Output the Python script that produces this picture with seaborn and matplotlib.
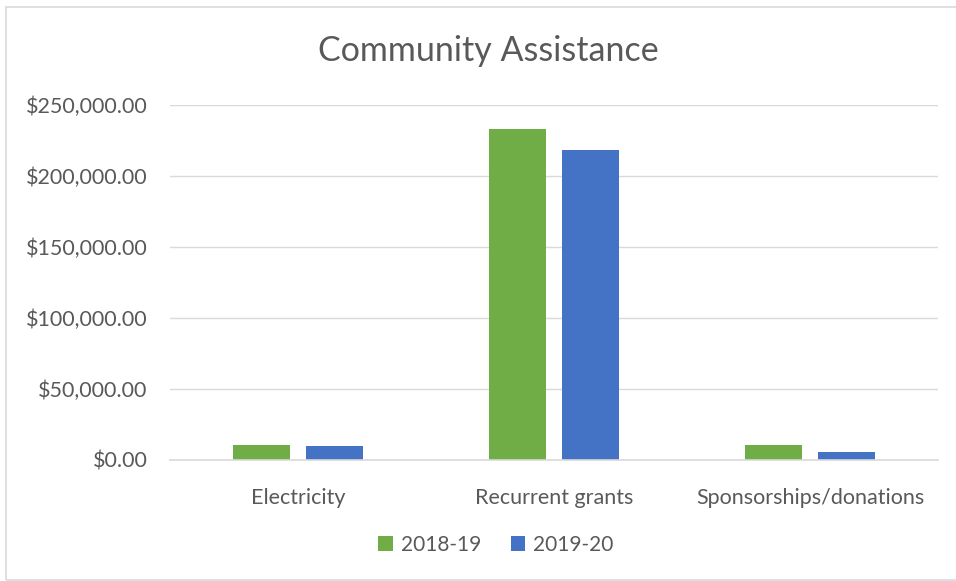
import matplotlib
matplotlib.use("Agg")
import matplotlib.pyplot as plt
import seaborn as sns
import pandas as pd
from matplotlib.ticker import FuncFormatter, MultipleLocator
from matplotlib.patches import Rectangle

categories = ["Electricity", "Recurrent grants", "Sponsorships/donations"]
series_names = ["2018-19", "2019-20"]
values_2018_19 = [10800, 233300, 10500]
values_2019_20 = [10000, 218500, 5300]

df = pd.DataFrame({
    "Category": categories * 2,
    "Year": [series_names[0]] * 3 + [series_names[1]] * 3,
    "Value": values_2018_19 + values_2019_20,
})

sns.set_theme(style="white")
plt.rcParams["font.family"] = ["Lato", "DejaVu Sans"]

fig = plt.figure(figsize=(9.56, 5.81), dpi=100)
ax = fig.add_axes([170/956, 1 - 460/581, (938-170)/956, (460-105)/581])

sns.barplot(data=df, x="Category", y="Value", hue="Year", ax=ax,
            palette=["#70AD47", "#4472C4"], width=0.57, gap=0.22,
            saturation=1, errorbar=None, linewidth=0)

ax.set_ylim(0, 250000)
ax.yaxis.set_major_locator(MultipleLocator(50000))
ax.yaxis.set_major_formatter(FuncFormatter(lambda v, p: f"${v:,.2f}"))
ax.grid(axis="y", color="#D9D9D9", linewidth=1)
ax.set_axisbelow(True)
for s in ["top", "right", "left"]:
    ax.spines[s].set_visible(False)
ax.spines["bottom"].set_color("#D9D9D9")
ax.spines["bottom"].set_linewidth(1.2)
ax.set_xlabel("")
ax.set_ylabel("")
ax.tick_params(axis="both", length=0, labelsize=15.5, colors="#595959")
ax.tick_params(axis="x", pad=20)
ax.tick_params(axis="y", pad=16)
ax.set_xlim(-0.5, 2.5)

ax.legend_.remove()
handles, labels = ax.get_legend_handles_labels()
fig.legend(handles, labels, loc="center", bbox_to_anchor=(496/956, 1 - 545/581),
           ncol=2, frameon=False, fontsize=15, labelcolor="#595959",
           handlelength=0.7, handleheight=0.7, columnspacing=1.4, handletextpad=0.4)

fig.text(488/956, 1 - 51/581, "Community Assistance", ha="center", va="center",
         fontsize=24.5, color="#595959")

fig.patches.append(Rectangle((6/956, 0.002), 1.2, 1 - 8/581, transform=fig.transFigure,
                             fill=False, edgecolor="#D9D9D9", linewidth=1.2))

fig.savefig("out.png", dpi=100, facecolor="white")
